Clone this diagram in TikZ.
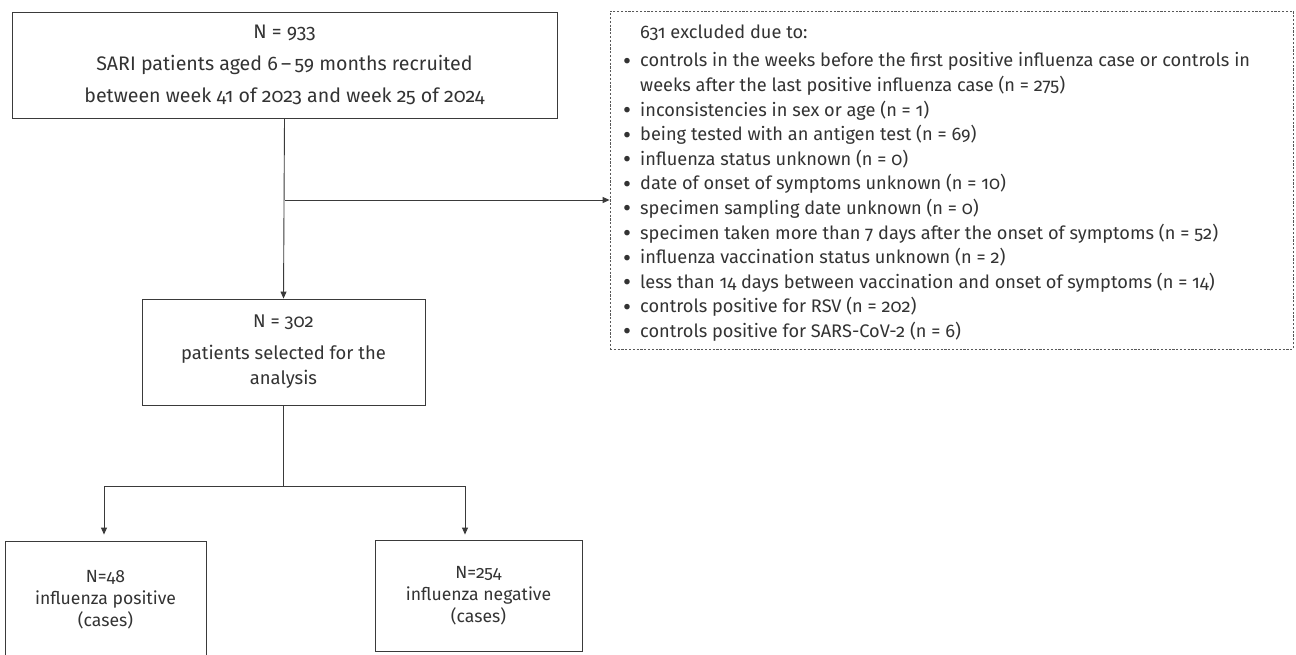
\documentclass[tikz,border=0pt]{standalone}
\usepackage{fontspec}
\setmainfont{Fira Sans}[Numbers=OldStyle]
\usetikzlibrary{arrows.meta}
\definecolor{ink}{HTML}{333333}
\definecolor{edge}{HTML}{3A3A3A}
\newcommand{\itm}{\makebox[17pt][l]{\smash{\raisebox{-2.4pt}{\scalebox{1.35}{\textbullet}}}}}
\newcommand{\ind}{\hspace*{17pt}}
\begin{document}
\begin{tikzpicture}[x=1pt,y=1pt,
  box/.style={draw=edge,line width=0.9pt,inner sep=0pt,align=center,text=ink},
  arr/.style={draw=edge,line width=0.9pt,-{Triangle[length=7pt,width=6pt]}},
  ln/.style={draw=edge,line width=0.9pt},
  dbox/.style={draw=edge!85,line width=0.8pt,dash pattern=on 2.2pt off 1.6pt,inner sep=0pt}]
\clip (0,0) rectangle (1296,-654);
\fill[white] (0,0) rectangle (1296,-654);

\node[box, minimum width=545pt, minimum height=106pt, font=\fontsize{19.6}{32}\selectfont] (top) at (284.5,-65)
  {N = 933\\SARI patients aged 6\,–\,59 months recruited\\between week 41 of 2023 and week 25 of 2024};

\node[box, minimum width=283pt, minimum height=106pt, font=\fontsize{18.4}{25}\selectfont] (sel) at (283.5,-352)
  {N = 302\\[7pt]patients selected for the\\analysis};

\node[box, minimum width=201pt, minimum height=118pt, font=\fontsize{17.6}{22}\selectfont] (pos) at (105.5,-600)
  {N=48\\influenza positive\\(cases)};

\node[box, minimum width=207pt, minimum height=111pt, font=\fontsize{17.6}{22}\selectfont] (neg) at (478.5,-595.5)
  {N=254\\influenza negative\\(cases)};

\node[dbox, minimum width=683pt, minimum height=338pt] (excl) at (951.5,-180) {};
\node[anchor=north west, inner sep=0pt, align=left, text=ink, font=\fontsize{18.2}{24.6}\selectfont] (exlist) at (623,-25)
  {\ind 631 excluded due to:\\[3.4pt]
   \itm controls in the weeks before the first positive influenza case or controls in\\
   \ind weeks after the last positive influenza case (n = 275)\\
   \itm inconsistencies in sex or age (n = 1)\\
   \itm being tested with an antigen test (n = 69)\\
   \itm influenza status unknown (n = 0)\\
   \itm date of onset of symptoms unknown (n = 10)\\
   \itm specimen sampling date unknown (n = 0)\\
   \itm specimen taken more than 7 days after the onset of symptoms (n = 52)\\
   \itm influenza vaccination status unknown (n = 2)\\
   \itm less than 14 days between vaccination and onset of symptoms (n = 14)\\
   \itm controls positive for RSV (n = 202)\\
   \itm controls positive for SARS-CoV-2 (n = 6)};

\draw[arr] (top.south) -- (sel.north);
\coordinate (br) at (top.south |- 0,-200);
\draw[arr] (br) -- (br -| excl.west);

\coordinate (sp) at (sel.south |- 0,-486);
\coordinate (lb) at (104,-486);
\coordinate (rb) at (465,-486);
\draw[ln] (sel.south) -- (sp);
\draw[ln] (lb) -- (rb);
\draw[arr, shorten >=6pt] (lb) -- (lb |- pos.north);
\draw[arr, shorten >=5pt] (rb) -- (rb |- neg.north);
\end{tikzpicture}
\end{document}
